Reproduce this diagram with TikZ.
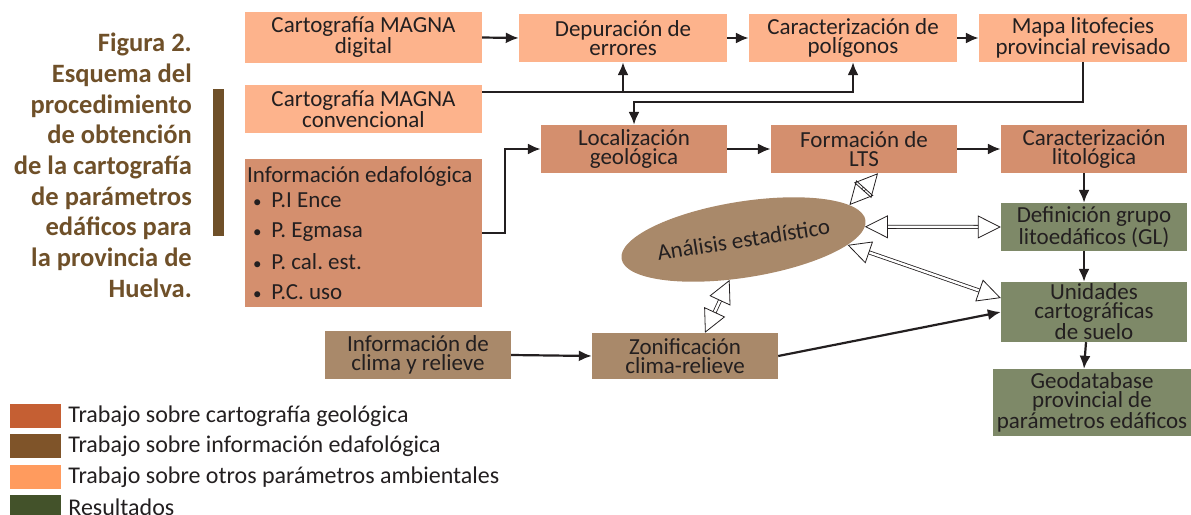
\documentclass[tikz,border=0pt]{standalone}
\usepackage{fontspec}
\setmainfont{Carlito}
\usetikzlibrary{shapes.geometric,arrows.meta,positioning}
\definecolor{ambcol}{HTML}{FDB38C}
\definecolor{geocol}{HTML}{D48F6E}
\definecolor{edacol}{HTML}{A9896A}
\definecolor{rescol}{HTML}{7E8968}
\definecolor{txtcol}{HTML}{231F20}
\definecolor{titcol}{HTML}{6F5029}
\definecolor{leggeo}{HTML}{C55F33}
\definecolor{legeda}{HTML}{7F5429}
\definecolor{legamb}{HTML}{FF9B5E}
\definecolor{legres}{HTML}{43522A}
\newcommand{\blt}{\hspace*{6pt}{\fontsize{17}{17}\selectfont\textbullet}\hspace{10pt}}
\tikzset{
  stage/.style={rectangle, inner sep=0pt, align=center, text=txtcol, font=\fontsize{23}{19}\selectfont},
  amb/.style={stage, fill=ambcol},
  geo/.style={stage, fill=geocol},
  eda/.style={stage, fill=edacol},
  res/.style={stage, fill=rescol},
  flow/.style={->, draw=txtcol, line width=2.2pt},
  link/.style={draw=txtcol, double=white, double distance=2.4pt, line width=0.8pt,
    {Triangle[open,length=23pt,width=23pt]}-{Triangle[open,length=23pt,width=23pt]}},
  legbox/.style={rectangle, minimum width=51pt, minimum height=24pt, inner sep=0pt},
  legtext/.style={inner sep=0pt, text=txtcol, font=\fontsize{24}{26}\selectfont},
}
\begin{document}
\begin{tikzpicture}[x=1pt,y=-1pt,>={Latex[length=13pt,width=11pt]}]
  \useasboundingbox (0,0) rectangle (1191,514);
%%
  % Node: title
  \node[anchor=north east, inner sep=0pt, align=right, text=titcol,
    font=\bfseries\fontsize{26.5}{30.7}\selectfont] (title) at (192,33)
    {Figura 2.\\Esquema del\\procedimiento\\de obtención\\de la cartografía\\de parámetros\\edáficos para\\la provincia de\\Huelva.};
  \fill[titcol] (213,89) rectangle (224,236);
  % Node: Cartografía MAGNA digital
  \node[amb, minimum width=237pt, minimum height=51pt] (dig) at (363.5,37.5) {Cartografía MAGNA\\digital};
  % Node: Depuración de errores
  \node[amb, minimum width=208pt, minimum height=48pt] (dep) at (623,38) {Depuración de\\errores};
  % Node: Caracterización de polígonos
  \node[amb, minimum width=208pt, minimum height=48pt] (pol) at (853,38) {Caracterización de\\polígonos};
  % Node: Mapa litofecies provincial revisado
  \node[amb, minimum width=208pt, minimum height=48pt] (map) at (1083,38) {Mapa litofecies\\provincial revisado};
  % Node: Cartografía MAGNA convencional
  \node[amb, minimum width=237pt, minimum height=48pt] (conv) at (363.5,109) {Cartografía MAGNA\\convencional};
  % Node: Localización geológica
  \node[geo, minimum width=186pt, minimum height=48pt] (loc) at (634,149) {Localización\\geológica};
  % Node: Formación de LTS
  \node[geo, minimum width=186pt, minimum height=48pt] (lts) at (864,149) {Formación de\\LTS};
  % Node: Caracterización litológica
  \node[geo, minimum width=186pt, minimum height=48pt] (lit) at (1094,149) {Caracterización\\litológica};
  % Node: Información edafológica
  \node[geo, align=flush left, text width=233pt, minimum width=237pt, minimum height=148pt,
    font=\fontsize{23}{19}\selectfont\frenchspacing] (edaf) at (363.5,233)
    {Información edafológica\\[5.5pt]
     \blt P.I Ence\\[11pt]
     \blt P. Egmasa\\[11pt]
     \blt P. cal. est.\\[11pt]
     \blt P.C. uso};
  % Node: Análisis estadístico
  \node[ellipse, fill=edacol, text=txtcol, inner sep=0pt, minimum width=220pt, minimum height=76pt,
    rotate=9, font=\fontsize{23}{19}\selectfont] (est) at (743.5,239.5) {Análisis estadístico};
  % Node: Información de clima y relieve
  \node[eda, minimum width=186pt, minimum height=48pt] (clim) at (418,355) {Información de\\clima y relieve};
  % Node: Zonificación clima-relieve
  \node[eda, minimum width=186pt, minimum height=46pt] (zon) at (685,356) {Zonificación\\clima-relieve};
  % Node: Definición grupo litoedáficos (GL)
  \node[res, minimum width=186pt, minimum height=48pt] (def) at (1094,227) {Definición grupo\\litoedáficos (GL)};
  % Node: Unidades cartográficas de suelo
  \node[res, minimum width=186pt, minimum height=60pt] (uni) at (1094,312) {Unidades\\cartográficas\\de suelo};
  % Node: Geodatabase provincial
  \node[res, minimum width=198pt, minimum height=67pt] (gdb) at (1092,402.5) {Geodatabase\\provincial de\\parámetros edáficos};
%%
  % Edge: dig -> dep -> pol -> map
  \draw[flow] (dig.east) -- (dep.west);
  \draw[flow] (dep.east) -- (pol.west);
  \draw[flow] (pol.east) -- (map.west);
  % Edge: conv -> dep, conv -> pol
  \coordinate (cv) at ([yshift=17pt]conv.east);
  \draw[flow] (cv) -| (pol.south);
  \draw[flow] (cv -| dep.south) -- (dep.south);
  % Edge: map -> loc
  \draw[flow] (map.south) -- ++(0,40) -| (loc.north);
  % Edge: edaf -> loc
  \draw[flow] (edaf.east) -- ++(23,0) |- (loc.west);
  % Edge: loc -> lts -> lit
  \draw[flow] (loc.east) -- (lts.west);
  \draw[flow] (lts.east) -- (lit.west);
  % Edge: lit -> def -> uni -> gdb
  \draw[flow] ([xshift=-10pt]lit.south) -- ([xshift=-10pt]def.north);
  \draw[flow] ([xshift=-10pt]def.south) -- ([xshift=-10pt]uni.north);
  \draw[flow] ([xshift=-8pt]uni.south) -- ([xshift=-8pt]gdb.north);
  % Edge: clim -> zon -> uni
  \draw[flow] (clim.east) -- (zon.west);
  \draw[flow] (zon.east) -- (uni.west);
  % Edge: est <-> lts, def, uni, zon
  \draw[link] (est.9) -- ([xshift=14pt]lts.south);
  \draw[link] (est.-3) -- (def.west);
  \draw[link] (est.-12) -- ([yshift=14pt]uni.west);
  \draw[link] (est.-118) -- ([xshift=20pt]zon.north);
%%
  % Node: legend
  \node[legbox, fill=leggeo] (lg1) at (35.5,416) {};
  \node[legbox, fill=legeda] (lg2) at (35.5,446) {};
  \node[legbox, fill=legamb] (lg3) at (35.5,477) {};
  \node[legbox, fill=legres] (lg4) at (35.5,507) {};
  \node[legtext, right=7pt of lg1] (lt1) {Trabajo sobre cartografía geológica};
  \node[legtext, right=7pt of lg2] (lt2) {Trabajo sobre información edafológica};
  \node[legtext, right=7pt of lg3] (lt3) {Trabajo sobre otros parámetros ambientales};
  \node[legtext, right=7pt of lg4] (lt4) {Resultados};
%
\end{tikzpicture}
\end{document}
